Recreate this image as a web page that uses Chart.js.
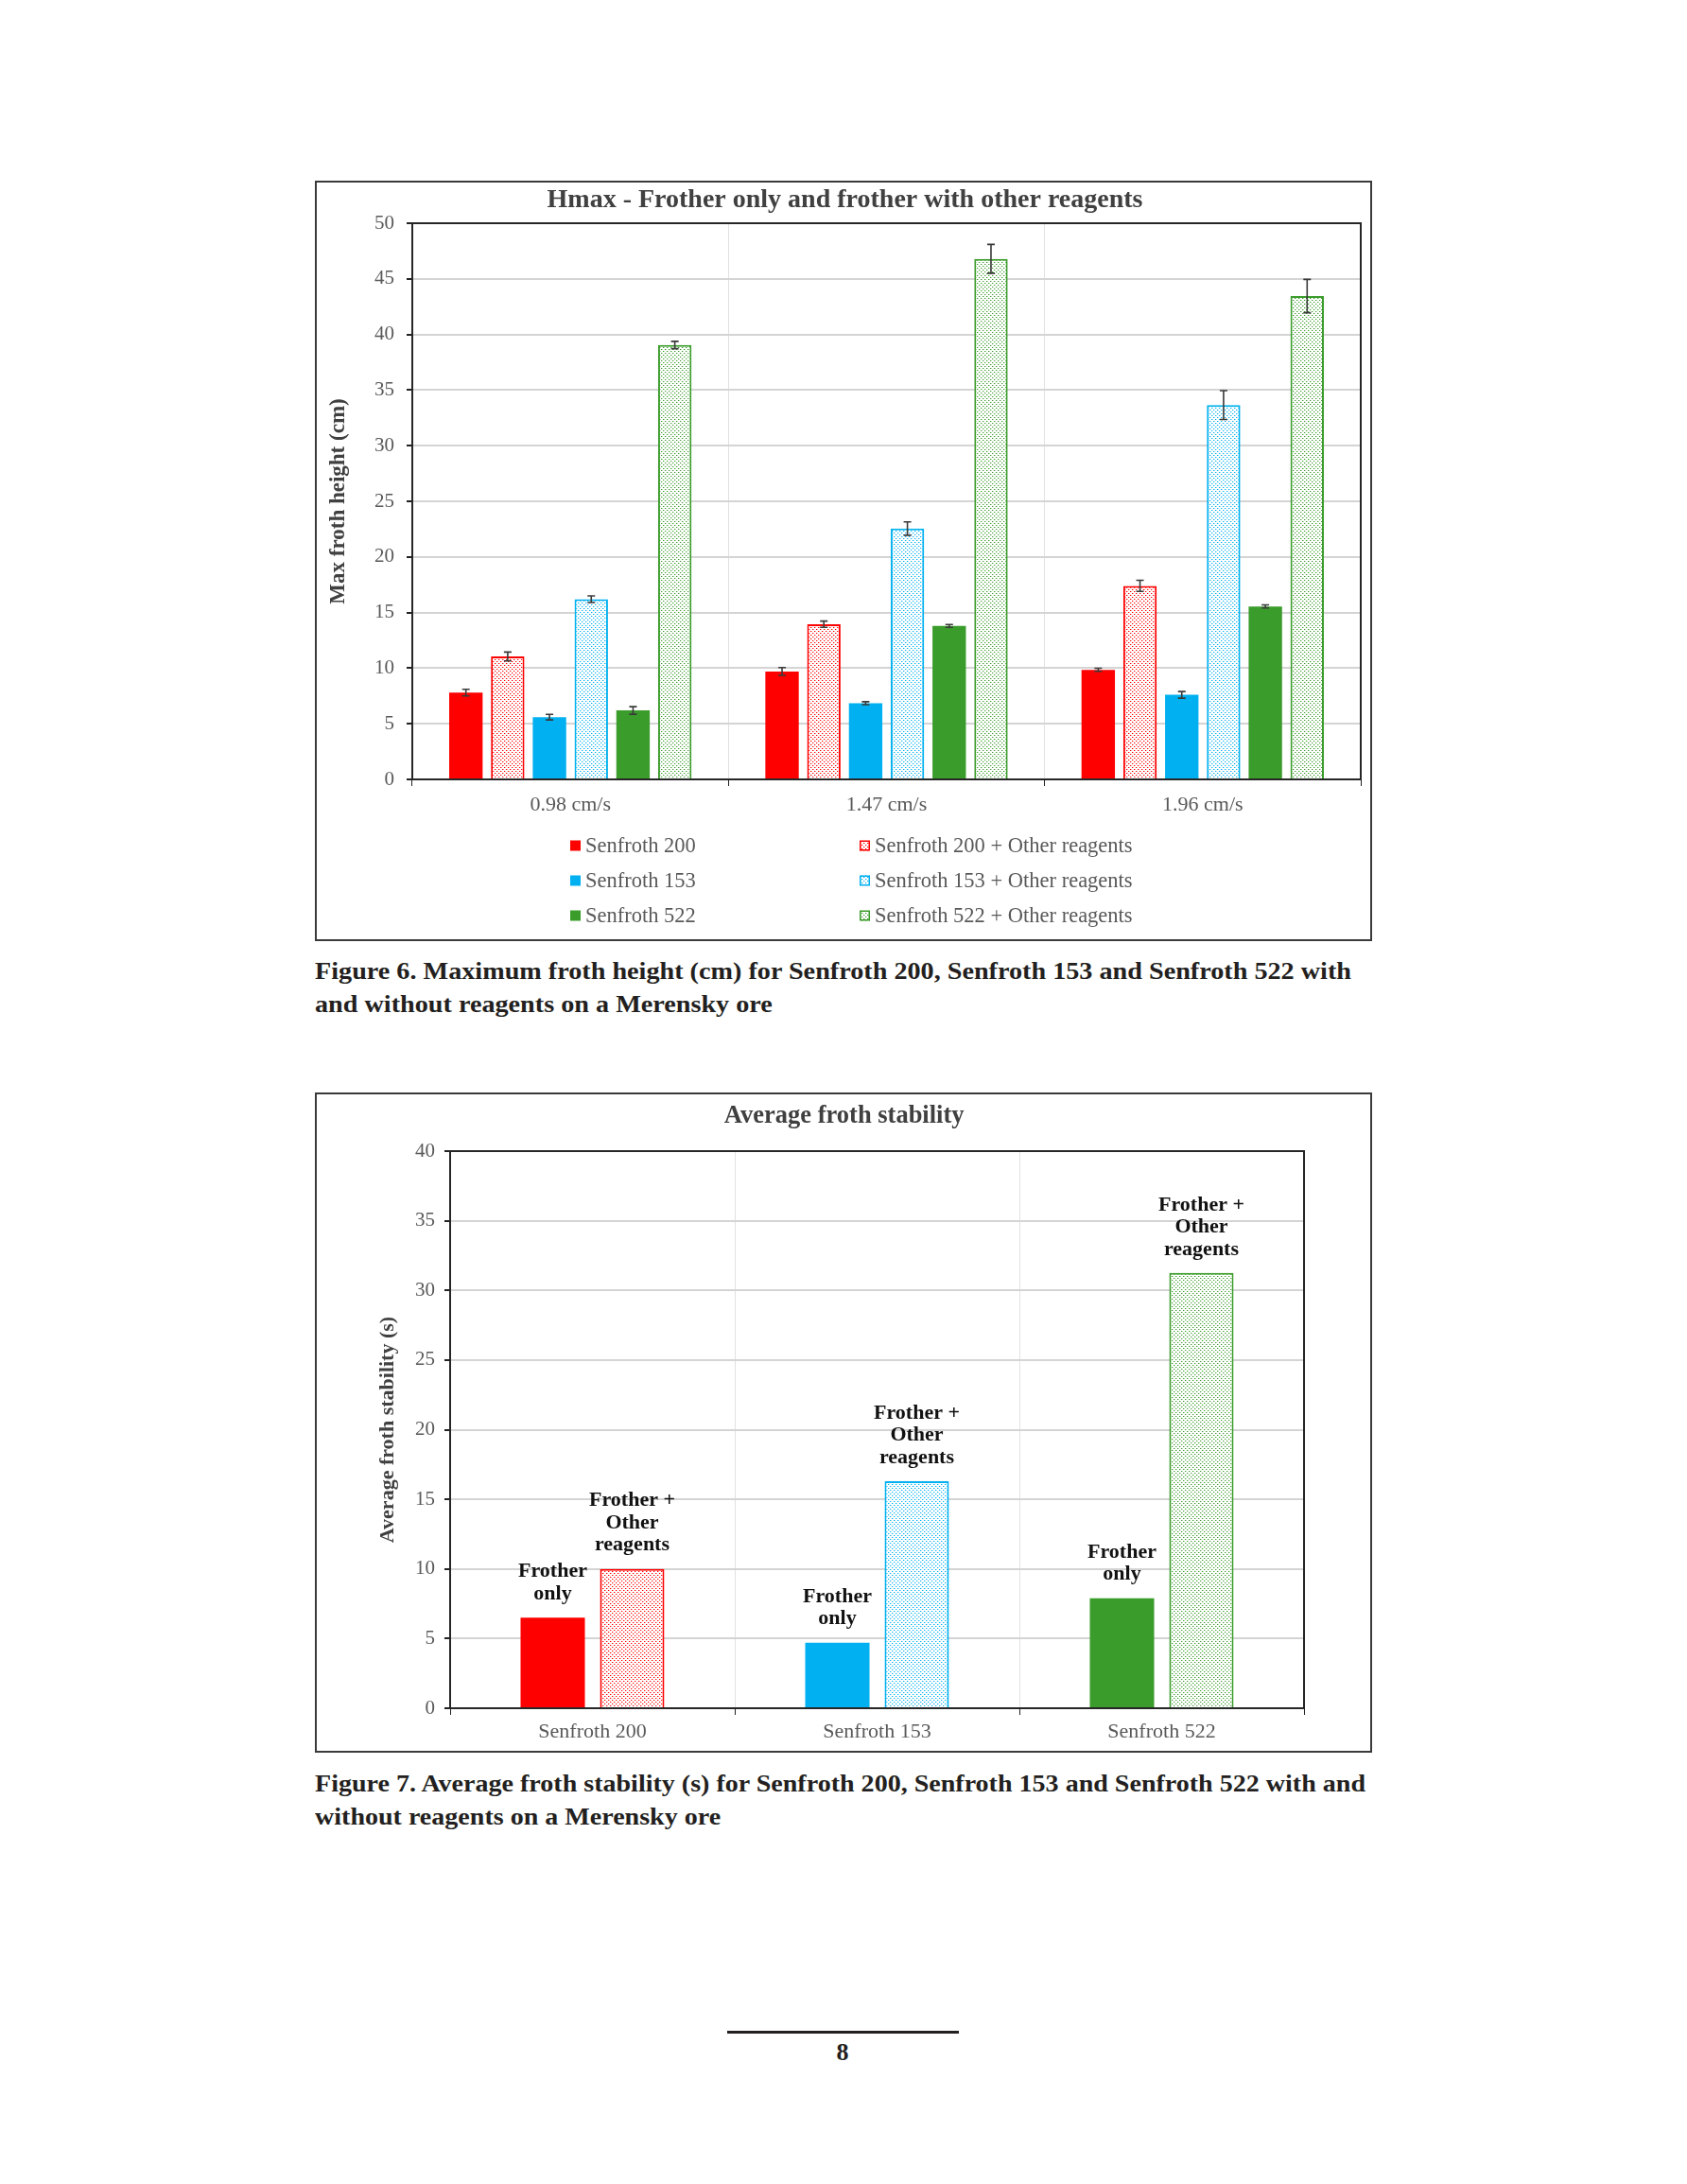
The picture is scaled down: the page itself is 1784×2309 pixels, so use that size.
<!DOCTYPE html>
<html>
<head>
<meta charset="utf-8">
<script src="https://cdn.jsdelivr.net/npm/chart.js@4/dist/chart.umd.min.js"></script>
<style>
  html, body { margin:0; padding:0; background:#fff; }
  body { width:1784px; height:2309px; position:relative; overflow:hidden; font-family:"Liberation Serif","Times New Roman",serif; }
  .box { position:absolute; border:2px solid #3a3a3a; box-sizing:border-box; background:#fff; }
  .box canvas { position:absolute; left:0; top:0; }
  .cap { position:absolute; left:333px; font-weight:bold; font-size:26px; line-height:35px; color:#231f20; white-space:nowrap; }
  .cap span { display:inline-block; transform-origin:0 50%; }
  .rule { position:absolute; left:769px; top:2147px; width:245px; height:3px; background:#231f20; }
  .pnum { position:absolute; left:791px; width:200px; top:2155px; text-align:center; font-weight:bold; font-size:26px; line-height:30px; color:#231f20; }
</style>
</head>
<body>

<div class="box" style="left:333px; top:191px; width:1118px; height:804px;"><canvas id="c1" width="1114" height="800"></canvas></div>
<div class="cap" style="top:1009px;"><span id="cap6a">Figure 6. Maximum froth height (cm) for Senfroth 200, Senfroth 153 and Senfroth 522 with</span><br><span id="cap6b">and without reagents on a Merensky ore</span></div>

<div class="box" style="left:333px; top:1155px; width:1118px; height:698px;"><canvas id="c2" width="1114" height="694"></canvas></div>
<div class="cap" style="top:1868px;"><span id="cap7a">Figure 7. Average froth stability (s) for Senfroth 200, Senfroth 153 and Senfroth 522 with and</span><br><span id="cap7b">without reagents on a Merensky ore</span></div>

<div class="rule"></div>
<div class="pnum">8</div>

<script>
// ---------- Figure 6 data ----------
const title1      = 'Hmax - Frother only and frother with other reagents';
const categories1 = ['0.98 cm/s', '1.47 cm/s', '1.96 cm/s'];
const s200      = [7.8, 9.7, 9.85];
const s200Err   = [0.3, 0.35, 0.14];
const s200o     = [11.05, 13.95, 17.4];
const s200oErr  = [0.4, 0.28, 0.5];
const s153      = [5.6, 6.85, 7.6];
const s153Err   = [0.25, 0.13, 0.3];
const s153o     = [16.2, 22.55, 33.65];
const s153oErr  = [0.3, 0.6, 1.3];
const s522      = [6.2, 13.8, 15.55];
const s522Err   = [0.34, 0.13, 0.14];
const s522o     = [39.05, 46.8, 43.45];
const s522oErr  = [0.33, 1.3, 1.5];
const yTicks1   = { min: 0, max: 50, step: 5 };

// ---------- Figure 7 data ----------
const title2       = 'Average froth stability';
const categories2  = ['Senfroth 200', 'Senfroth 153', 'Senfroth 522'];
const frotherOnly  = [6.5, 4.7, 7.9];
const frotherOther = [10.0, 16.3, 31.25];
const labelOnly    = ['Frother', 'only'];
const labelOther   = ['Frother +', 'Other', 'reagents'];
const yTicks2      = { min: 0, max: 40, step: 5 };

// ---------- styling ----------
const SERIF = '"Liberation Serif", "Times New Roman", serif';
const RED = '#FF0000', BLUE = '#00B0F0', GREEN = '#3A9C2A';
const TICK_COLOR = '#595959';

function pattern(color) {
  const c = document.createElement('canvas');
  c.width = 4; c.height = 4;
  const x = c.getContext('2d');
  x.fillStyle = '#fff'; x.fillRect(0, 0, 4, 4);
  x.fillStyle = color;
  x.globalAlpha = 1; x.fillRect(0, 0, 1, 1); x.fillRect(2, 2, 1, 1);
  x.globalAlpha = 0.35; x.fillRect(1, 0, 1, 1); x.fillRect(3, 2, 1, 1);
  return x.createPattern(c, 'repeat');
}

const centerTitle = {
  id: 'centerTitle',
  afterDraw(chart, args, o) {
    const ctx = chart.ctx;
    ctx.save();
    ctx.font = o.font; ctx.fillStyle = o.color;
    ctx.textAlign = 'center'; ctx.textBaseline = 'middle';
    ctx.fillText(o.text, chart.width / 2 + (o.dx || 0), o.y);
    ctx.restore();
  }
};

const errorBars = {
  id: 'errorBars',
  afterDatasetsDraw(chart) {
    const ctx = chart.ctx, y = chart.scales.y;
    chart.data.datasets.forEach((ds, i) => {
      if (!ds.errors) return;
      chart.getDatasetMeta(i).data.forEach((bar, j) => {
        const v = ds.data[j], e = ds.errors[j];
        const yt = y.getPixelForValue(v + e), yb = y.getPixelForValue(v - e);
        ctx.save();
        ctx.strokeStyle = '#3a3a3a'; ctx.lineWidth = 1.6;
        ctx.beginPath();
        ctx.moveTo(bar.x, yt); ctx.lineTo(bar.x, yb);
        ctx.moveTo(bar.x - 4, yt); ctx.lineTo(bar.x + 4, yt);
        ctx.moveTo(bar.x - 4, yb); ctx.lineTo(bar.x + 4, yb);
        ctx.stroke();
        ctx.restore();
      });
    });
  }
};

const frame = {
  id: 'frame',
  afterDatasetsDraw(chart) {
    const {ctx, chartArea: a} = chart;
    ctx.save();
    ctx.strokeStyle = '#262626'; ctx.lineWidth = 2;
    ctx.beginPath();
    ctx.moveTo(a.left, a.top); ctx.lineTo(a.right, a.top); ctx.lineTo(a.right, a.bottom);
    ctx.stroke();
    ctx.restore();
  }
};

const legendGrid = {
  id: 'legendGrid',
  afterDraw(chart, args, o) {
    const ctx = chart.ctx;
    ctx.save();
    ctx.font = o.font;
    ctx.textBaseline = 'middle';
    chart.data.datasets.forEach((ds, i) => {
      const col = i % 2, row = Math.floor(i / 2);
      const x = o.colX[col], y = o.rowY[row];
      ctx.fillStyle = ds.backgroundColor;
      ctx.fillRect(x, y - o.box / 2, o.box, o.box);
      if (ds.borderWidth) {
        ctx.strokeStyle = ds.borderColor; ctx.lineWidth = 1.5;
        ctx.strokeRect(x + 0.75, y - o.box / 2 + 0.75, o.box - 1.5, o.box - 1.5);
      }
      ctx.fillStyle = o.color;
      ctx.fillText(ds.label, x + o.gap, y + 1);
    });
    ctx.restore();
  }
};

const barLabels = {
  id: 'barLabels',
  afterDatasetsDraw(chart, args, o) {
    const ctx = chart.ctx;
    chart.data.datasets.forEach((ds, i) => {
      const lines = ds.barLabel;
      if (!lines) return;
      chart.getDatasetMeta(i).data.forEach(bar => {
        ctx.save();
        ctx.font = o.font; ctx.fillStyle = o.color;
        ctx.textAlign = 'center'; ctx.textBaseline = 'middle';
        lines.forEach((t, k) => {
          ctx.fillText(t, bar.x, bar.y - o.offset - (lines.length - 1 - k) * o.lineHeight);
        });
        ctx.restore();
      });
    });
  }
};

// ---------- Figure 6 chart ----------
const ctx1 = document.getElementById('c1').getContext('2d');
const mk = (label, data, errors, color, patterned) => ({
  label, data, errors,
  backgroundColor: patterned ? pattern(color) : color,
  borderColor: color,
  borderWidth: patterned ? 2 : 0,
  borderSkipped: 'bottom'
});

new Chart(ctx1, {
  type: 'bar',
  data: {
    labels: categories1,
    datasets: [
      mk('Senfroth 200', s200, s200Err, RED, false),
      mk('Senfroth 200 + Other reagents', s200o, s200oErr, RED, true),
      mk('Senfroth 153', s153, s153Err, BLUE, false),
      mk('Senfroth 153 + Other reagents', s153o, s153oErr, BLUE, true),
      mk('Senfroth 522', s522, s522Err, GREEN, false),
      mk('Senfroth 522 + Other reagents', s522o, s522oErr, GREEN, true)
    ]
  },
  options: {
    responsive: false, animation: false, devicePixelRatio: 1,
    datasets: { bar: { categoryPercentage: 0.793, barPercentage: 0.8 } },
    layout: { padding: { left: 0, right: 10, top: 43, bottom: 119 } },
    plugins: {
      legend: { display: false },
      tooltip: { enabled: false },
      title: { display: false },
      centerTitle: { text: title1, font: 'bold 28px ' + SERIF, color: '#404040', y: 19, dx: 1.5 },
      legendGrid: {
        font: '22.5px ' + SERIF, color: TICK_COLOR,
        colX: [268, 574], rowY: [701, 738, 775], box: 11, gap: 16
      }
    },
    scales: {
      x: {
        grid: { color: '#e2e2e2', lineWidth: 1, tickColor: '#222', tickLength: 7, offset: true },
        border: { color: '#262626', width: 2 },
        ticks: { font: { family: SERIF, size: 22 }, color: TICK_COLOR, padding: 7 },
        afterFit(s) { s.height = 50; }
      },
      y: {
        min: yTicks1.min, max: yTicks1.max,
        ticks: { stepSize: yTicks1.step, font: { family: SERIF, size: 21 }, color: TICK_COLOR, padding: 13 },
        grid: { color: '#d4d4d4', lineWidth: 2, tickColor: '#222', tickLength: 6 },
        border: { color: '#262626', width: 2 },
        title: { display: true, text: 'Max froth height (cm)', color: '#404040',
                 font: { family: SERIF, size: 23, weight: 'bold' }, padding: { top: 9.2 } },
        afterFit(s) { s.width = 101; }
      }
    }
  },
  plugins: [errorBars, frame, legendGrid, centerTitle]
});

// ---------- Figure 7 chart ----------
const ctx2 = document.getElementById('c2').getContext('2d');
new Chart(ctx2, {
  type: 'bar',
  data: {
    labels: categories2,
    datasets: [
      { label: 'Frother only', data: frotherOnly, barLabel: labelOnly,
        backgroundColor: [RED, BLUE, GREEN], borderWidth: 0 },
      { label: 'Frother + Other reagents', data: frotherOther, barLabel: labelOther,
        backgroundColor: [pattern(RED), pattern(BLUE), pattern(GREEN)],
        borderColor: [RED, BLUE, GREEN], borderWidth: 2, borderSkipped: 'bottom' }
    ]
  },
  options: {
    responsive: false, animation: false, devicePixelRatio: 1,
    datasets: { bar: { categoryPercentage: 0.558, barPercentage: 0.81 } },
    layout: { padding: { left: 0, right: 70, top: 60, bottom: 0 } },
    plugins: {
      legend: { display: false },
      tooltip: { enabled: false },
      title: { display: false },
      centerTitle: { text: title2, font: 'bold 26.5px ' + SERIF, color: '#404040', y: 23, dx: 0.7 },
      barLabels: { font: 'bold 22px ' + SERIF, color: '#111', offset: 25, lineHeight: 23.5 }
    },
    scales: {
      x: {
        grid: { color: '#e2e2e2', lineWidth: 1, tickColor: '#222', tickLength: 7, offset: true },
        border: { color: '#262626', width: 2 },
        ticks: { font: { family: SERIF, size: 22 }, color: TICK_COLOR, padding: 5 },
        afterFit(s) { s.height = 45; }
      },
      y: {
        min: yTicks2.min, max: yTicks2.max,
        ticks: { stepSize: yTicks2.step, font: { family: SERIF, size: 21 }, color: TICK_COLOR, padding: 10 },
        grid: { color: '#d4d4d4', lineWidth: 2, tickColor: '#222', tickLength: 6 },
        border: { color: '#262626', width: 2 },
        title: { display: true, text: 'Average froth stability (s)', color: '#404040',
                 font: { family: SERIF, size: 22, weight: 'bold' }, padding: { top: 61.8 } },
        afterFit(s) { s.width = 141; }
      }
    }
  },
  plugins: [frame, barLabels, centerTitle]
});

// ---------- caption widths ----------
function fit(idA, idB, target) {
  const a = document.getElementById(idA), b = document.getElementById(idB);
  const k = target / a.getBoundingClientRect().width;
  a.style.transform = b.style.transform = 'scaleX(' + k + ')';
}
fit('cap6a', 'cap6b', 1096);
fit('cap7a', 'cap7b', 1111);
</script>
</body>
</html>
